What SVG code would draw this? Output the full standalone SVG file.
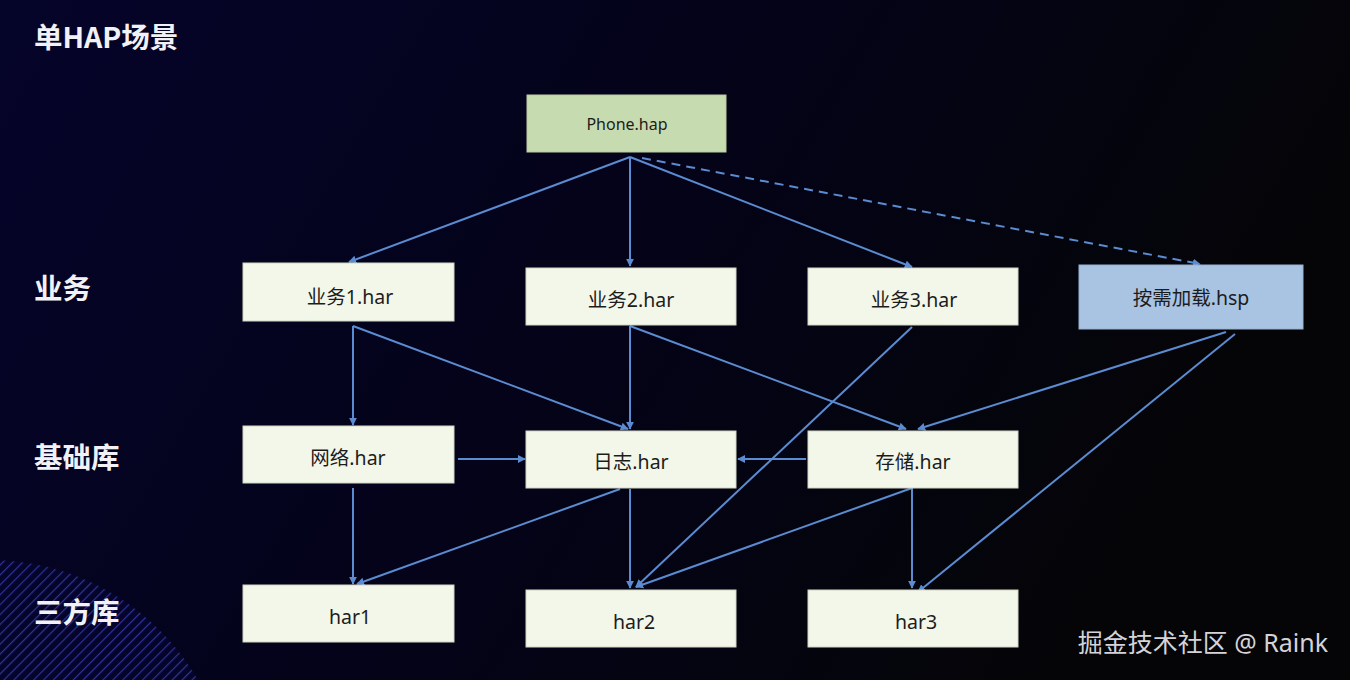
<svg xmlns="http://www.w3.org/2000/svg" width="1350" height="680" viewBox="0 0 1350 680">
<style>
.node{fill:#f3f7ea;stroke:#cfd6c4;stroke-width:1}
.lbl{font-family:"Noto Sans","Noto Sans CJK SC",sans-serif;font-size:19.5px;fill:#1c1c1c;text-anchor:middle}
.side{font-family:"Noto Sans CJK SC","Noto Sans",sans-serif;font-size:28.5px;font-weight:bold;fill:#f2f2f6}
.edge{stroke:#5b8bd0;stroke-width:2;fill:none;marker-end:url(#ah)}
</style>
<defs>
<linearGradient id="bg" x1="0" y1="0" x2="1" y2="0.3">
<stop offset="0" stop-color="#05042a"/>
<stop offset="0.55" stop-color="#040318"/>
<stop offset="1" stop-color="#050507"/>
</linearGradient>
<pattern id="hatch" width="7" height="7" patternUnits="userSpaceOnUse" patternTransform="rotate(45)">
<rect width="7" height="7" fill="#05042a"/>
<line x1="0" y1="0" x2="0" y2="7" stroke="#30329a" stroke-width="2.4"/>
</pattern>
<marker id="ah" viewBox="0 0 10 10" refX="9" refY="5" markerWidth="4" markerHeight="4" orient="auto">
<path d="M0,0 L10,5 L0,10 z" fill="#5b8bd0"/>
</marker>
<clipPath id="cl"><rect width="1350" height="680"/></clipPath>
</defs>
<rect width="1350" height="680" fill="url(#bg)"/>
<circle cx="-10" cy="800" r="240" fill="url(#hatch)" clip-path="url(#cl)"/>

<text class="side" x="34" y="48">单HAP场景</text>
<text class="side" x="34" y="299">业务</text>
<text class="side" x="34" y="468">基础库</text>
<text class="side" x="34" y="623">三方库</text>

<g id="connectors">
<line class="edge" x1="630" y1="157" x2="349" y2="262"/>
<line class="edge" x1="630" y1="157" x2="630" y2="266"/>
<line class="edge" x1="630" y1="157" x2="912" y2="267"/>
<line class="edge" x1="642" y1="158" x2="1200" y2="264" stroke-dasharray="9,6"/>
<line class="edge" x1="353" y1="326" x2="353" y2="425"/>
<line class="edge" x1="353" y1="326" x2="628" y2="429"/>
<line class="edge" x1="630" y1="326" x2="630" y2="429"/>
<line class="edge" x1="630" y1="326" x2="906" y2="429"/>
<line class="edge" x1="912" y1="327" x2="636" y2="587"/>
<line class="edge" x1="1226" y1="332" x2="918" y2="429"/>
<line class="edge" x1="1235" y1="334" x2="918" y2="592"/>
<line class="edge" x1="458" y1="459" x2="525" y2="459"/>
<line class="edge" x1="806" y1="459" x2="738" y2="459"/>
<line class="edge" x1="353" y1="488" x2="353" y2="584"/>
<line class="edge" x1="620" y1="489" x2="357" y2="584"/>
<line class="edge" x1="630" y1="489" x2="630" y2="588"/>
<line class="edge" x1="912" y1="488" x2="636" y2="587"/>
<line class="edge" x1="912" y1="488" x2="912" y2="588"/>
</g>

<g id="phone"><rect x="527" y="95" width="199" height="57" fill="#c7dbb0" stroke="#b9cba2"/><text class="lbl" x="627" y="130" style="font-size:16px">Phone.hap</text></g>
<g id="yw1"><rect class="node" x="243" y="263" width="211" height="58"/><text class="lbl" x="350" y="304">业务1.har</text></g>
<g id="yw2"><rect class="node" x="526" y="268" width="210" height="57"/><text class="lbl" x="631" y="307">业务2.har</text></g>
<g id="yw3"><rect class="node" x="808" y="268" width="210" height="57"/><text class="lbl" x="914" y="307">业务3.har</text></g>
<g id="hsp"><rect x="1079" y="265" width="224" height="64" fill="#a9c3e3" stroke="#98b2d2"/><text class="lbl" x="1191" y="305">按需加载.hsp</text></g>
<g id="net"><rect class="node" x="243" y="426" width="211" height="57"/><text class="lbl" x="348" y="465">网络.har</text></g>
<g id="log"><rect class="node" x="526" y="431" width="210" height="57"/><text class="lbl" x="631" y="469">日志.har</text></g>
<g id="store"><rect class="node" x="808" y="431" width="210" height="57"/><text class="lbl" x="913" y="469">存储.har</text></g>
<g id="har1"><rect class="node" x="243" y="585" width="211" height="57"/><text class="lbl" x="350" y="624">har1</text></g>
<g id="har2"><rect class="node" x="526" y="590" width="210" height="57"/><text class="lbl" x="634" y="629">har2</text></g>
<g id="har3"><rect class="node" x="808" y="590" width="210" height="57"/><text class="lbl" x="916" y="629">har3</text></g>

<text x="1328" y="652" text-anchor="end" style="font-family:'Noto Sans','Noto Sans CJK SC',sans-serif;font-size:25px;fill:#d4d4d8">掘金技术社区 @ Raink</text>
</svg>
